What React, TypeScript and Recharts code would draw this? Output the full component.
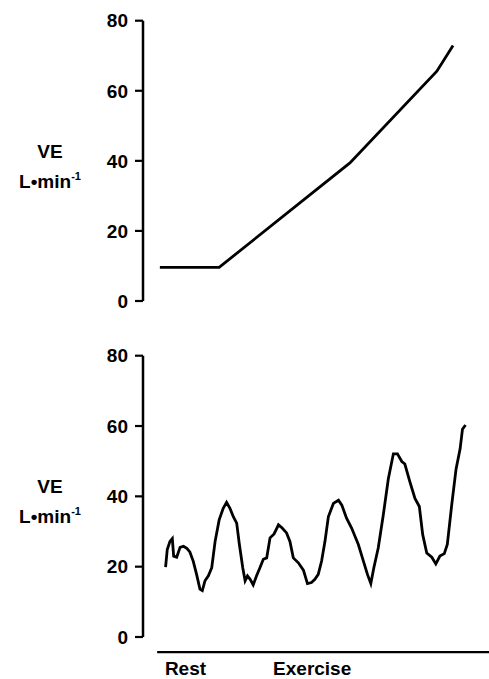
import React from "react";
import { Line, LineChart, ReferenceLine, XAxis, YAxis } from "recharts";

// top panel: rest plateau then steady rise with exercise
const rampTime = [5.0, 22.6, 61.4, 87.2, 92.0];
const rampVE = [9.6, 9.6, 39.4, 65.6, 72.9];

// bottom panel: oscillating trace
const waveTime = [
    6.7, 7.2, 8.0, 8.7, 9.1, 10.0, 11.0, 12.0, 13.0, 13.9, 14.9, 15.9, 16.9, 17.6, 18.4, 19.4, 20.4, 21.4, 22.6, 23.8,
    24.8, 25.8, 26.8, 27.8, 28.6, 29.6, 30.3, 31.0, 31.8, 32.7, 33.7, 34.7, 35.7, 36.7, 37.7, 38.9, 40.2, 41.3, 42.6,
    43.6, 44.6, 46.1, 47.6, 48.8, 50.0, 51.0, 52.0, 53.0, 54.0, 55.0, 56.5, 58.0, 59.0, 60.4, 61.9, 63.9, 65.4, 66.6,
    67.6, 68.5, 69.8, 71.3, 72.8, 74.3, 75.5, 76.8, 77.7, 79.2, 80.7, 82.0, 83.0, 84.2, 85.7, 86.9, 88.1, 89.4, 90.3,
    91.6, 92.9, 94.1, 94.8, 95.7,
];
const waveVE = [
    19.9, 24.9, 27.2, 28.0, 23.0, 22.7, 25.5, 25.8, 25.2, 24.2, 21.6, 17.8, 13.6, 13.2, 16.0, 17.4, 19.7, 27.2, 33.3,
    36.6, 38.3, 36.6, 34.2, 32.4, 26.3, 19.7, 16.0, 17.4, 16.4, 14.8, 17.4, 19.7, 22.1, 22.5, 28.2, 29.3, 31.9, 31.0,
    29.6, 27.2, 22.5, 21.1, 19.0, 15.2, 15.5, 16.4, 17.8, 21.6, 27.2, 34.2, 38.0, 38.9, 37.5, 33.8, 31.0, 26.3, 21.6,
    17.8, 15.2, 19.7, 25.3, 34.7, 45.0, 52.1, 52.1, 49.9, 49.2, 44.1, 39.4, 37.1, 29.1, 23.9, 22.7, 20.8, 23.0, 23.7,
    26.3, 37.5, 47.8, 53.5, 59.1, 60.3,
];

const yTicks = [0, 20, 40, 60, 80];
const phaseTicks = [6.5, 38.6];
const phaseLabels = ["Rest", "Exercise"];

const rampData = rampTime.map((t, i) => ({ t, ve: rampVE[i] }));
const waveData = waveTime.map((t, i) => ({ t, ve: waveVE[i] }));

const FONT = "'Liberation Sans', Arial, sans-serif";

const VeLabel = (props: any) => {
    const { viewBox } = props;
    const cy = viewBox.y + viewBox.height / 2;
    return (
        <g fontFamily={FONT} fontWeight="bold" fill="#000">
            <text x={50} y={cy - 3} textAnchor="middle" fontSize={19}>
                VE
            </text>
            <text x={50} y={cy + 27} textAnchor="middle" fontSize={19}>
                L•min
                <tspan fontSize={11} dy={-8}>
                    -1
                </tspan>
            </text>
        </g>
    );
};

const PhaseTick = (props: any) => {
    const { x, y, index } = props;
    return (
        <text x={x} y={y + 38} textAnchor="start" fontFamily={FONT} fontWeight="bold" fontSize={19} fill="#000">
            {phaseLabels[index]}
        </text>
    );
};

const yAxisProps = {
    dataKey: "ve",
    type: "number" as const,
    domain: [0, 80],
    ticks: yTicks,
    width: 143,
    tickSize: 8,
    tickMargin: 7,
    axisLine: { stroke: "#000", strokeWidth: 2.5 },
    tickLine: { stroke: "#000", strokeWidth: 2.2 },
    tick: { fill: "#000", fontSize: 19, fontWeight: "bold", fontFamily: FONT },
    interval: 0 as const,
};

export default function App() {
    return (
        <div style={{ position: "absolute", left: 0, top: 0, width: 489, height: 679, background: "#fff" }}>
            <div style={{ position: "absolute", left: 0, top: 0 }}>
                <LineChart width={489} height={320} data={rampData} margin={{ top: 20.7, right: 9, left: 0, bottom: 19 }}>
                    <XAxis dataKey="t" type="number" domain={[0, 100]} hide />
                    <YAxis {...yAxisProps} label={<VeLabel />} />
                    <Line
                        dataKey="ve"
                        type="linear"
                        stroke="#000"
                        strokeWidth={2.8}
                        dot={false}
                        isAnimationActive={false}
                    />
                </LineChart>
            </div>
            <div style={{ position: "absolute", left: 0, top: 320 }}>
                <LineChart width={489} height={359} data={waveData} margin={{ top: 35.7, right: 9, left: 0, bottom: 0 }}>
                    <XAxis
                        dataKey="t"
                        type="number"
                        domain={[0, 100]}
                        ticks={phaseTicks}
                        height={42}
                        axisLine={false}
                        tickLine={false}
                        tickSize={0}
                        tickMargin={0}
                        interval={0}
                        tick={<PhaseTick />}
                    />
                    <YAxis {...yAxisProps} label={<VeLabel />} />
                    <ReferenceLine
                        segment={[
                            { x: 4.2, y: -4.3 },
                            { x: 102.7, y: -4.3 },
                        ]}
                        stroke="#000"
                        strokeWidth={2.2}
                        ifOverflow="visible"
                    />
                    <Line
                        dataKey="ve"
                        type="linear"
                        stroke="#000"
                        strokeWidth={2.8}
                        dot={false}
                        isAnimationActive={false}
                    />
                </LineChart>
            </div>
        </div>
    );
}
